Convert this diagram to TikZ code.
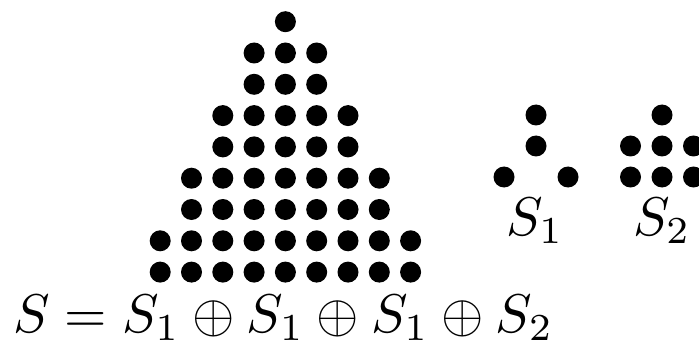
\documentclass[tikz,border=0pt]{standalone}
\begin{document}
\begin{tikzpicture}[x=1pt,y=1pt,
  dot/.style={fill=black,draw=none},
  lbl/.style={inner sep=0pt,scale=5.45}]
\useasboundingbox (0,0) rectangle (699,-342);
\def\r{10.5}
% pyramid
\foreach \row/\n in {0/1,1/3,2/3,3/5,4/5,5/7,6/7,7/9,8/9}{
  \pgfmathsetmacro{\yy}{-21.7-31.3*\row}
  \pgfmathsetmacro{\half}{(\n-1)/2}
  \foreach \k in {1,...,\n}{
    \pgfmathsetmacro{\xx}{285.4+31.3*(\k-1-\half)}
    \fill[dot] (\xx,\yy) circle (\r);
  }
}
% S1
\fill[dot] (536,-115) circle (\r);
\fill[dot] (536,-146) circle (\r);
\fill[dot] (504,-177) circle (\r);
\fill[dot] (568,-177) circle (\r);
% S2
\fill[dot] (662,-115) circle (\r);
\foreach \yy in {-146,-177}{
  \foreach \xx in {630.5,662,693.5}{
    \fill[dot] (\xx,\yy) circle (\r);
  }
}
\node[lbl,anchor=base] (s1) at (535,-235) {$S_1$};
\node[lbl,anchor=base] (s2) at (662,-235) {$S_2$};
\node[lbl,anchor=base west] (eq) at (12,-332) {$S = S_1 \oplus S_1 \oplus S_1 \oplus S_2$};
\end{tikzpicture}
\end{document}
